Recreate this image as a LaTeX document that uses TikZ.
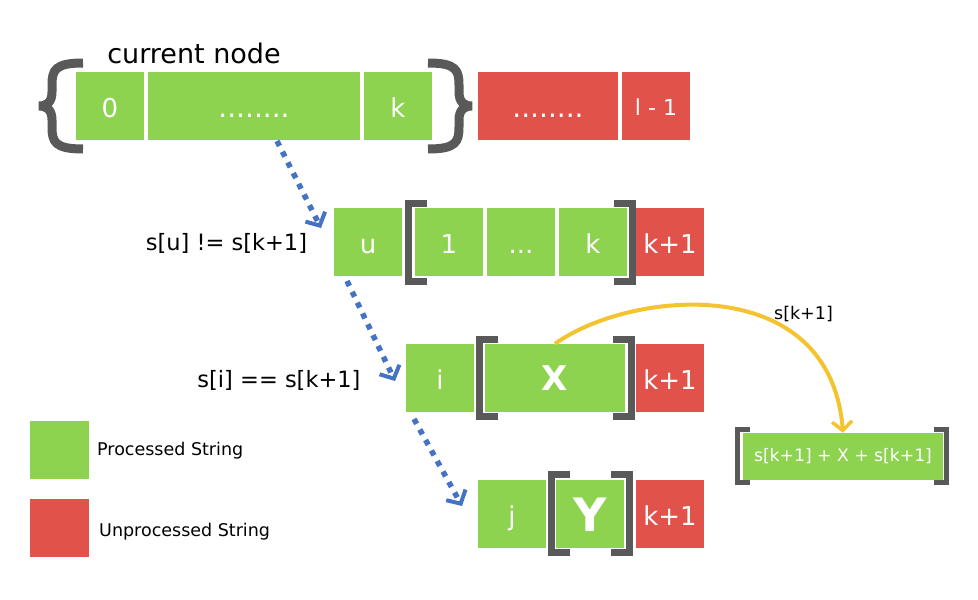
\documentclass[tikz,border=0pt]{standalone}
\usepackage{fontspec}
\setmainfont{DejaVu Sans}
\usetikzlibrary{arrows.meta}
\definecolor{procgreen}{RGB}{141,211,80}
\definecolor{unprocred}{RGB}{225,82,74}
\definecolor{bracegray}{RGB}{89,89,89}
\definecolor{flowblue}{RGB}{68,114,196}
\definecolor{swapyellow}{RGB}{243,196,48}
\newcommand{\fs}[1]{\fontsize{#1}{#1}\selectfont}

\begin{document}
\begin{tikzpicture}
[x=1pt,y=-1pt,every node/.style={inner sep=0pt},
 cell/.style={text=white,minimum width=68pt,minimum height=68pt,text height=22pt,text depth=0pt,font=\fs{26}},
 pbox/.style={cell,fill=procgreen},
 ubox/.style={cell,fill=unprocred},
 brk/.style={draw=bracegray,line width=7pt,line join=miter},
 brace/.style={draw=bracegray,line width=9pt},
 flow/.style={draw=flowblue,line width=5.5pt,dash pattern=on 5.5pt off 6.5pt,-{Straight Barb[length=10pt,width=22pt,line width=4pt]}},
 cond/.style={text=black,font=\fs{22.5}}]
  \useasboundingbox (0,0) rectangle (978,600);

  % current node
  \node[font=\fs{27}] (title) at (194,53) {current node};
  \node[pbox] (a0) at (110,106) {0};
  \node[pbox,minimum width=212pt,font=\fs{28}] (adots) at (254,106) {........};
  \node[pbox] (ak) at (398,106) {k};
  \node[ubox,minimum width=140pt,font=\fs{28}] (arest) at (548,106) {........};
  \node[ubox,font=\fs{22},text height=18pt] (al) at (656,106) {l - 1};

  \draw[brace] (83,63) .. controls (55,63) and (52,70) .. (52,85) -- (52,92)
    .. controls (52,102) and (47,106) .. (39,106) .. controls (47,106) and (52,110) .. (52,120)
    -- (52,127) .. controls (52,142) and (55,149) .. (83,149);
  \draw[brace] (428,63) .. controls (456,63) and (459,70) .. (459,85) -- (459,92)
    .. controls (459,102) and (464,106) .. (472,106) .. controls (464,106) and (459,110) .. (459,120)
    -- (459,127) .. controls (459,142) and (456,149) .. (428,149);

  % row u
  \node[cond] (tu) at (226.5,243) {s[u] != s[k+1]};
  \node[pbox] (bu) at (368,242) {u};
  \node[pbox] (b1) at (449,242) {1};
  \node[pbox] (bdots) at (521,242) {...};
  \node[pbox] (bk) at (593,242) {k};
  \node[ubox] (bk1) at (670,242) {k+1};

  % row i
  \node[cond] (ti) at (279,380) {s[i] == s[k+1]};
  \node[pbox] (ci) at (440,378) {i};
  \node[pbox,minimum width=140pt,font=\bfseries\fs{34},text height=25pt] (cx) at (555,378) {X};
  \node[ubox] (ck1) at (670,378) {k+1};

  % row j
  \node[pbox] (dj) at (512,514) {j};
  \node[pbox,font=\bfseries\fs{46},text height=34pt] (dy) at (590,514) {Y};
  \node[ubox] (dk1) at (670,514) {k+1};

  \foreach \x/\t/\b in {408/203/281, 479/339.5/416.5, 551/474.5/552.5}
    \draw[brk] (\x+19,\t) -- (\x,\t) -- (\x,\b) -- (\x+19,\b);
  \foreach \x/\t/\b in {632/203/281, 631/339.5/416.5, 629/474.5/552.5}
    \draw[brk] (\x-18,\t) -- (\x,\t) -- (\x,\b) -- (\x-18,\b);

  % result
  \node[fill=procgreen,text=white,minimum width=200pt,minimum height=47pt,font=\fs{17.2}] (res) at (843,456.5) {s[k+1] + X + s[k+1]};
  \node[font=\fs{17.5}] (tk) at (803.5,314.5) {s[k+1]};
  \draw[brk,line width=5pt] (750,429.5) -- (737.5,429.5) -- (737.5,482.5) -- (750,482.5);
  \draw[brk,line width=5pt] (934,429.5) -- (946.5,429.5) -- (946.5,482.5) -- (934,482.5);

  % legend
  \node[fill=procgreen,minimum width=59pt,minimum height=58pt] (lp) at (59.5,450) {};
  \node[fill=unprocred,minimum width=59pt,minimum height=58pt] (lu) at (59.5,528) {};
  \node[font=\fs{17.5},anchor=base west] (tp) at (97,455) {Processed String};
  \node[font=\fs{17.5},anchor=base west] (tun) at (99,536) {Unprocessed String};

  % arrows
  \coordinate (f1s) at (277,141);
  \coordinate (f1e) at (321,228);
  \coordinate (f2s) at (347,281);
  \coordinate (f2e) at (395,381);
  \coordinate (f3s) at (414,419);
  \coordinate (f3e) at (462,506);
  \foreach \from/\to in {f1s/f1e, f2s/f2e, f3s/f3e}
    \draw[flow] (\from) -- (\to);

  \draw[swapyellow,line width=4pt,-{Straight Barb[length=9pt,width=20pt,line width=3.5pt]}]
    (cx.north) .. controls (630,290) and (830,270) .. (res.north);
\end{tikzpicture}
\end{document}
